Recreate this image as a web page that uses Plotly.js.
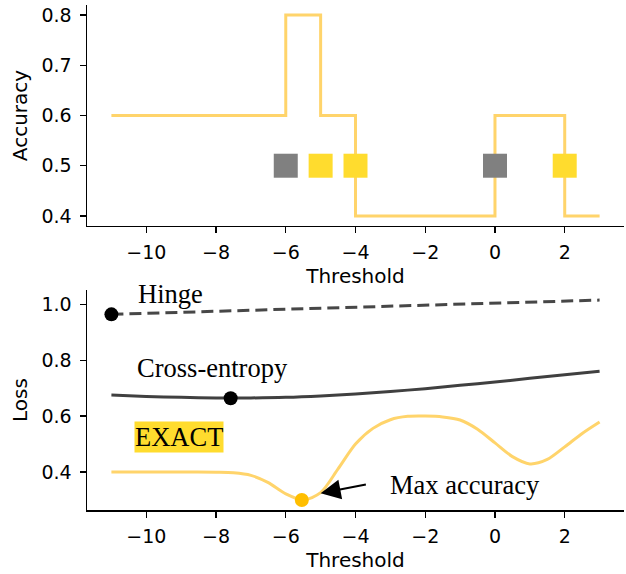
<!DOCTYPE html>
<html>
<head>
<meta charset="utf-8">
<script src="https://cdn.plot.ly/plotly-3.0.1.min.js"></script>
<style>html,body{margin:0;padding:0;background:#fff;}#chart{width:626px;height:574px;}</style>
</head>
<body>
<div id="chart"></div>
<script>
// Top panel: accuracy step function
const accX = [-11, -6, -5, -4, 0, 2, 3];
const accY = [0.6, 0.8, 0.6, 0.4, 0.6, 0.4, 0.4];
const graySqX = [-6, 0];
const graySqY = [0.5, 0.5];
const yellowSqX = [-5, -4, 2];
const yellowSqY = [0.5, 0.5, 0.5];

// Bottom panel: losses
const hingeX = [-11, -9, -7, -5, -3, -1, 1, 3];
const hingeY = [0.964, 0.971, 0.978, 0.985, 0.992, 0.999, 1.007, 1.015];
const ceX = [-11, -10, -9, -8, -7, -6, -5, -4, -3, -2, -1, 0, 1, 2, 3];
const ceY = [0.675, 0.670, 0.667, 0.665, 0.665, 0.667, 0.672, 0.679, 0.688, 0.698, 0.710, 0.722, 0.735, 0.748, 0.760];
const exactX = [-11, -10, -9, -8, -7.5, -7, -6.5, -6, -5.5, -5, -4.5, -4, -3.5, -3, -2.5, -2, -1.5, -1, -0.5, 0, 0.5, 1, 1.5, 2, 2.5, 3];
const exactY = [0.400, 0.400, 0.400, 0.399, 0.397, 0.388, 0.362, 0.322, 0.300, 0.326, 0.411, 0.500, 0.556, 0.587, 0.599, 0.600, 0.597, 0.586, 0.553, 0.504, 0.455, 0.429, 0.445, 0.490, 0.538, 0.579];
const hingeDot = {x: [-11], y: [0.964]};
const ceDot = {x: [-7.58], y: [0.664]};
const maxAccDot = {x: [-5.54], y: [0.300]};

const xTicks = [-10, -8, -6, -4, -2, 0, 2];
const accTicks = [0.4, 0.5, 0.6, 0.7, 0.8];
const lossTicks = [0.4, 0.6, 0.8, 1.0];

const lineYellow = '#FFD46B';
const sqYellow = '#FFDC2E';
const sqGray = '#808080';

const traces = [
  {x: accX, y: accY, mode: 'lines', line: {shape: 'hv', color: lineYellow, width: 3}, xaxis: 'x', yaxis: 'y', hoverinfo: 'skip'},
  {x: graySqX, y: graySqY, mode: 'markers', marker: {symbol: 'square', size: 24, color: sqGray}, xaxis: 'x', yaxis: 'y'},
  {x: yellowSqX, y: yellowSqY, mode: 'markers', marker: {symbol: 'square', size: 24, color: sqYellow}, xaxis: 'x', yaxis: 'y'},
  {x: hingeX, y: hingeY, mode: 'lines', line: {color: '#474747', width: 3, dash: '12px,6px'}, xaxis: 'x2', yaxis: 'y2'},
  {x: ceX, y: ceY, mode: 'lines', line: {color: '#404040', width: 3, shape: 'spline', smoothing: 0.8}, xaxis: 'x2', yaxis: 'y2'},
  {x: exactX, y: exactY, mode: 'lines', line: {color: lineYellow, width: 3, shape: 'spline', smoothing: 0.8}, xaxis: 'x2', yaxis: 'y2'},
  {x: hingeDot.x, y: hingeDot.y, mode: 'markers', marker: {size: 14, color: '#000'}, xaxis: 'x2', yaxis: 'y2'},
  {x: ceDot.x, y: ceDot.y, mode: 'markers', marker: {size: 14, color: '#000'}, xaxis: 'x2', yaxis: 'y2'},
  {x: maxAccDot.x, y: maxAccDot.y, mode: 'markers', marker: {size: 14, color: '#FFBE00'}, xaxis: 'x2', yaxis: 'y2'}
];

const tickFont = {family: 'DejaVu Sans', size: 19, color: '#000'};
const titleFont = {family: 'DejaVu Sans', size: 20, color: '#000'};
const serif = {family: 'Liberation Serif', size: 26.5, color: '#000'};

function xAxis(anchor) {
  return {
    anchor: anchor, range: [-11.7, 3.7], tickvals: xTicks, ticktext: xTicks.map(v => v < 0 ? '\u2212' + Math.abs(v) : String(v)),
    showgrid: false, zeroline: false, showline: true, linecolor: '#000', linewidth: 1.5,
    ticks: 'outside', ticklen: 6, tickwidth: 1.3, tickcolor: '#000', tickfont: tickFont, ticklabelstandoff: 3,
    title: {text: 'Threshold', font: titleFont, standoff: 6}, automargin: false
  };
}
function yAxis(anchor, domain, range, ticks, title) {
  return {
    anchor: anchor, domain: domain, range: range, tickvals: ticks, ticktext: ticks.map(v => v.toFixed(1)),
    showgrid: false, zeroline: false, showline: true, linecolor: '#000', linewidth: 1.5,
    ticks: 'outside', ticklen: 6, tickwidth: 1.3, tickcolor: '#000', tickfont: tickFont, ticklabelstandoff: 4,
    title: {text: title, font: titleFont, standoff: 8}, automargin: false
  };
}

const layout = {
  width: 626, height: 574,
  margin: {l: 87, r: 2, t: 5, b: 64},
  paper_bgcolor: '#fff', plot_bgcolor: '#fff',
  showlegend: false,
  xaxis: xAxis('y'),
  yaxis: yAxis('x', [0.5624, 1], [0.38, 0.82], accTicks, 'Accuracy'),
  xaxis2: xAxis('y2'),
  yaxis2: yAxis('x2', [0, 0.4356], [0.264, 1.051], lossTicks, 'Loss'),
  annotations: [
    {text: 'Hinge', xref: 'x2', yref: 'y2', x: -10.29, y: 1.036, xanchor: 'left', yanchor: 'middle', showarrow: false, font: serif},
    {text: 'Cross-entropy', xref: 'x2', yref: 'y2', x: -10.32, y: 0.773, xanchor: 'left', yanchor: 'middle', showarrow: false, font: serif},
    {text: 'EXACT', xref: 'x2', yref: 'y2', x: -10.35, y: 0.524, xanchor: 'left', yanchor: 'middle', showarrow: false, font: serif, bgcolor: sqYellow, borderpad: 0},
    {text: 'Max accuracy', xref: 'x2', yref: 'y2', x: -3.08, y: 0.353, xanchor: 'left', yanchor: 'middle', showarrow: false, font: serif},
    {text: '', xref: 'x2', yref: 'y2', x: -5.0, y: 0.324, axref: 'x2', ayref: 'y2', ax: -3.66, ay: 0.356, showarrow: true, arrowhead: 2, arrowsize: 2, arrowwidth: 2, arrowcolor: '#000'}
  ]
};

Plotly.newPlot('chart', traces, layout, {staticPlot: true, displayModeBar: false});
</script>
</body>
</html>
